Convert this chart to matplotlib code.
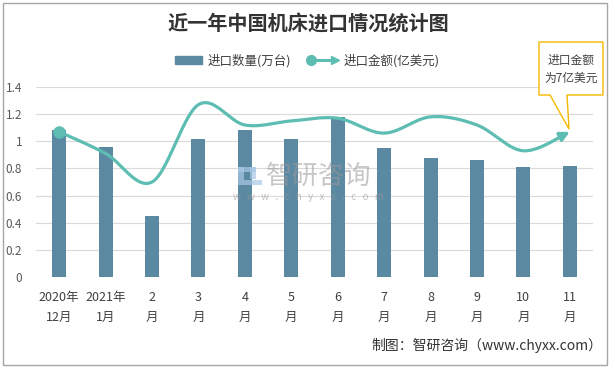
import numpy as np
import matplotlib
matplotlib.use("Agg")
import matplotlib.pyplot as plt
from matplotlib.lines import Line2D
from matplotlib.patches import Rectangle, Polygon, Patch
from matplotlib.legend_handler import HandlerBase

plt.rcParams['font.family'] = ['Noto Sans CJK SC', 'DejaVu Sans']

###   DONNEES   ###
mois = ["2020年\n12月", "2021年\n1月", "2\n月", "3\n月", "4\n月", "5\n月",
        "6\n月", "7\n月", "8\n月", "9\n月", "10\n月", "11\n月"]
quantite = [1.08, 0.96, 0.45, 1.02, 1.08, 1.02, 1.18, 0.95, 0.88, 0.86, 0.81, 0.82]
montant = [1.07, 0.91, 0.70, 1.27, 1.12, 1.15, 1.17, 1.06, 1.18, 1.12, 0.93, 1.07]
yticks = [0, 0.2, 0.4, 0.6, 0.8, 1, 1.2, 1.4]
ytick_labels = ["0", "0.2", "0.4", "0.6", "0.8", "1", "1.2", "1.4"]

c_bar = '#5B89A2'
c_line = '#5DBDB3'
W, H = 615, 369


# courbe lissee facon Excel (Catmull-Rom en Bezier)
def lissage(y, n=30):
    x = np.arange(len(y), dtype=float)
    y = np.asarray(y, dtype=float)
    xs, ys = [], []
    for i in range(len(y) - 1):
        i0, i3 = max(i - 1, 0), min(i + 2, len(y) - 1)
        p0 = np.array([x[i], y[i]])
        p3 = np.array([x[i + 1], y[i + 1]])
        c1 = p0 + (np.array([x[i + 1], y[i + 1]]) - np.array([x[i0], y[i0]])) / 6
        c2 = p3 - (np.array([x[i3], y[i3]]) - np.array([x[i], y[i]])) / 6
        t = np.linspace(0, 1, n)[:, None]
        pts = (1 - t) ** 3 * p0 + 3 * (1 - t) ** 2 * t * c1 + 3 * (1 - t) * t ** 2 * c2 + t ** 3 * p3
        xs.extend(pts[:, 0]); ys.extend(pts[:, 1])
    return np.array(xs), np.array(ys)


class HandlerFleche(HandlerBase):
    def create_artists(self, legend, orig_handle, xdescent, ydescent, width, height, fontsize, trans):
        y = height / 2 - ydescent
        l = Line2D([-xdescent, width - xdescent - 3], [y, y], color=c_line, lw=2.2, transform=trans)
        m1 = Line2D([-xdescent], [y], marker='o', ms=7, color=c_line, lw=0, transform=trans)
        m2 = Line2D([width - xdescent - 2], [y], marker='>', ms=6, color=c_line, lw=0, transform=trans)
        return [l, m1, m2]


fig = plt.figure(figsize=(W / 100, H / 100), dpi=100)
ax = fig.add_axes([36 / W, 1 - 277 / H, (593 - 36) / W, (277 - 87) / H])

x = np.arange(len(mois))
ax.bar(x, quantite, width=0.3, color=c_bar, zorder=2)

xs, ys = lissage(montant)
ax.plot(xs[:-4], ys[:-4], color=c_line, lw=2.3, solid_capstyle='round', zorder=3)
ax.plot([x[0]], [montant[0]], 'o', color=c_line, ms=8, zorder=4)
ax.annotate('', xy=(x[-1], montant[-1]), xytext=(xs[-6], ys[-6]),
            arrowprops=dict(arrowstyle='-|>', color=c_line, lw=2.3, mutation_scale=14, shrinkA=0, shrinkB=0),
            zorder=4)

ax.set_xlim(-0.5, len(mois) - 0.5)
ax.set_ylim(0, 1.4)
ax.set_yticks(yticks)
ax.set_yticklabels(ytick_labels, fontsize=8.5, color='#595959')
ax.set_xticks(x)
ax.set_xticklabels(mois, fontsize=9, color='#404040', linespacing=1.75)
ax.tick_params(length=0, pad=10)
ax.tick_params(axis='y', pad=10)
ax.grid(axis='y', color='#D9D9D9', lw=0.8, zorder=0)
for s in ax.spines.values():
    s.set_visible(False)

# titre
fig.text(308 / W, 1 - 24 / H, "近一年中国机床进口情况统计图", fontsize=14.5, fontweight='bold',
         color='#333333', ha='center', va='center')

# legende
handles = [Patch(color=c_bar), Line2D([], [], color=c_line)]
fig.legend(handles, ["进口数量(万台)", "进口金额(亿美元)"], loc='center',
           bbox_to_anchor=(307 / W, 1 - 61 / H), ncol=2, frameon=False, fontsize=9,
           handlelength=2.2, handleheight=0.6, columnspacing=1.6, handletextpad=0.4,
           handler_map={Line2D: HandlerFleche()}, labelcolor='#404040')

# filigrane
fig.text(266 / W, 1 - 176 / H, "智研咨询", fontsize=19, color='#9A9A9A', alpha=0.55,
         ha='left', va='center')
fig.text(308 / W, 1 - 197 / H, "w   w   w   .   c   h   y   x   x   .   c   o   m", fontsize=7,
         color='#9A9A9A', alpha=0.6, ha='center', va='center')
for (lx, ly, lw_, lh) in [(238, 167, 6, 18), (238, 167, 18, 5), (250, 167, 6, 12), (244, 180, 18, 5)]:
    fig.patches.append(Rectangle((lx / W, 1 - (ly + lh) / H), lw_ / W, lh / H,
                                 transform=fig.transFigure, color='#A9C8E6', alpha=0.7, lw=0))

# bulle
bulle = [(539, 42), (603, 42), (603, 95), (567, 95), (569, 129), (550, 95), (539, 95)]
fig.patches.append(Polygon([(px / W, 1 - py / H) for px, py in bulle], closed=True,
                           transform=fig.transFigure, facecolor='white', edgecolor='#F5B800',
                           lw=1, zorder=5))
fig.text(571 / W, 1 - 69 / H, "进口金额\n为7亿美元", fontsize=8.5, color='#404040',
         ha='center', va='center', linespacing=1.5, zorder=6)

# source
fig.text(602 / W, 1 - 345 / H, "制图：智研咨询（www.chyxx.com）", fontsize=10,
         color='#333333', ha='right', va='center')

# cadre
fig.patches.append(Rectangle((3 / W, 1 - 365 / H), 604 / W, 362 / H, transform=fig.transFigure,
                             fill=False, edgecolor='#A6A6A6', lw=1))

fig.savefig("out.png", dpi=100)
